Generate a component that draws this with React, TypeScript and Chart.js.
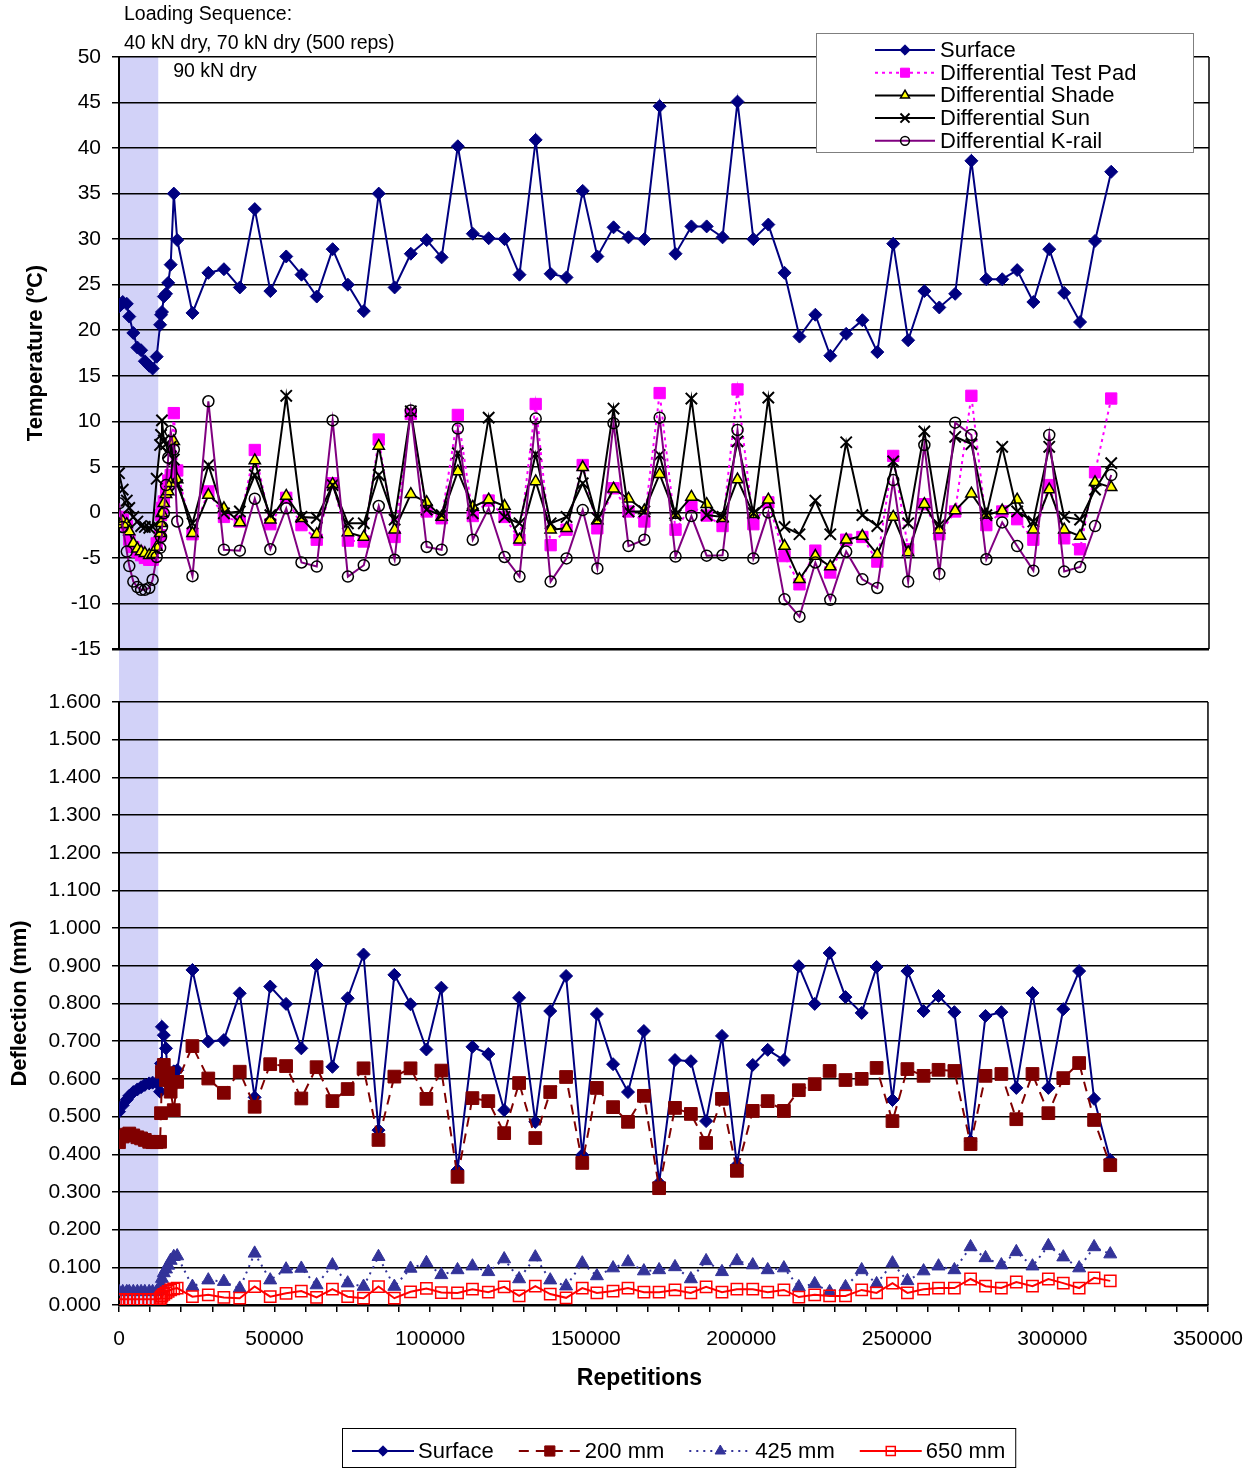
import React, { useEffect, useRef } from 'react';
import { Chart, registerables } from 'chart.js';
import { drawPoint } from 'chart.js/helpers';

Chart.register(...registerables);

const FONT = "'Liberation Sans', Arial, Helvetica, sans-serif";

// ---------------- DATA ----------------
const repetitions = [
  0, 1200, 2500, 3300, 4600, 5900, 7100, 8300, 9700, 10800, 12100, 13200, 13500, 13800, 14400, 15100, 15800, 16600, 17600, 18700,
  23600, 28700, 33700, 38800, 43600, 48600, 53700, 58600, 63500, 68600, 73500, 78600, 83400, 88500, 93700, 98800, 103600,
  108800, 113600, 118700, 123800, 128600, 133800, 138600, 143700, 148900, 153600, 158800, 163600, 168700, 173600, 178700,
  183800, 188700, 193800, 198600, 203700, 208500, 213700, 218500, 223600, 228400, 233500, 238700, 243500, 248600, 253400,
  258600, 263400, 268500, 273700, 278500, 283600, 288400, 293600, 298700, 303500, 308600, 313400, 318600,
];

const surfaceTemp = [
  22.6, 23.1, 22.9, 21.5, 19.7, 18.1, 17.8, 16.6, 16.1, 15.8, 17.1, 20.6, 21.7, 22.0, 23.7, 24.0, 25.2, 27.2, 35.0, 29.9,
  21.9, 26.3, 26.7, 24.7, 33.3, 24.3, 28.1, 26.1, 23.7, 28.9, 25.0, 22.1, 35.0, 24.7, 28.4, 29.9, 28.0,
  40.2, 30.6, 30.1, 30.0, 26.1, 40.9, 26.2, 25.8, 35.3, 28.1, 31.3, 30.2, 30.0, 44.6, 28.4, 31.4, 31.4, 30.2, 45.1, 30.0,
  31.6, 26.3, 19.3, 21.7, 17.2, 19.6, 21.1, 17.6, 29.5, 18.9, 24.3, 22.5, 24.0, 38.6, 25.6, 25.6, 26.6, 23.1, 28.9, 24.1,
  20.9, 29.8, 37.4,
];

const testPadDiff = [
  -0.5, -0.8, -1.5, -3.0, -3.8, -4.3, -4.7, -5.0, -5.2, -5.2, -3.4, -2.5, -0.3, 0.5, 1.2, 2.5, 3.5, 4.1, 10.9, 4.6,
  -2.4, 2.3, -0.5, -1.0, 6.85, -1.3, 1.6, -1.4, -3.0, 3.2, -3.1, -3.2, 8.0, -2.7, 10.8, 0.1, -0.65,
  10.7, -0.4, 1.3, -0.5, -3.0, 11.9, -3.6, -1.9, 5.2, -1.75, 2.65, 0.1, -1.0, 13.1, -1.9, 0.7, -0.35,
  -1.5, 13.5, -1.3, 1.1, -4.8, -7.9, -4.2, -6.6, -3.0, -2.7, -5.4, 6.2, -4.05, 0.9, -2.4, 0.1, 12.8,
  -1.4, 0.1, -0.75, -3.0, 3.0, -2.85, -4.05, 4.4, 12.5,
];

const shadeDiff = [
  -1.3, -1.0, -1.3, -2.1, -3.4, -4.0, -4.3, -4.5, -4.7, -4.6, -3.8, -2.3, -1.2, -0.1, 1.0, 2.0, 2.3, 3.2, 7.8, 3.6,
  -2.3, 1.9, 0.45, -1.1, 5.7, -0.8, 1.8, -0.65, -2.4, 3.1, -2.2, -2.7, 7.3, -1.9, 2.0, 1.1, -0.5,
  4.5, 0.6, 1.4, 0.7, -3.0, 3.4, -1.9, -1.75, 4.95, -0.9, 2.6, 1.5, 0.2, 4.2, -0.3, 1.7, 0.9,
  -0.65, 3.6, -0.2, 1.4, -3.7, -7.35, -4.8, -5.95, -3.0, -2.6, -4.6, -0.5, -4.4, 0.9, -1.9, 0.2, 2.05,
  -0.3, 0.2, 1.4, -1.9, 2.5, -1.9, -2.6, 3.3, 2.75,
];

const sunDiff = [
  4.3, 2.5, 1.3, 0.5, -0.5, -1.0, -1.5, -1.6, -1.7, -1.6, 3.7, 7.4, 8.5, 10.1, 7.9, 7.5, 6.5, 7.2, 5.8, 3.0,
  -1.2, 5.2, -0.1, 0.1, 4.1, -0.3, 12.8, -0.5, -0.6, 3.0, -1.2, -1.2, 4.1, -0.8, 11.1, 0.3, -0.3,
  6.5, -0.1, 10.4, -0.5, -1.2, 6.4, -1.2, -0.5, 3.2, -0.65, 11.4, 0.1, 0.1, 6.3, -0.3, 12.5, -0.3,
  -0.5, 7.8, -0.1, 12.6, -1.6, -2.4, 1.3, -2.4, 7.7, -0.3, -1.5, 5.6, -1.2, 8.9, -1.4, 8.3, 7.5,
  -0.3, 7.2, 0.1, -1.0, 7.2, -0.5, -0.8, 2.5, 5.4,
];

const kRailDiff = [
  1.0, -1.6, -4.3, -5.9, -7.6, -8.2, -8.5, -8.5, -8.3, -7.4, -4.9, -3.9, -2.7, -1.6, -0.1, 3.0, 6.0, 8.9, 6.9, -1.0,
  -7.0, 12.2, -4.1, -4.2, 1.5, -4.05, 0.45, -5.5, -5.95, 10.1, -7.05, -5.8, 0.7, -5.2, 11.2, -3.8, -4.1,
  9.2, -3.0, 0.45, -4.9, -7.05, 10.3, -7.6, -5.05, 0.25, -6.15, 9.8, -3.7, -3.0, 10.4, -4.85, -0.4, -4.75,
  -4.7, 9.05, -5.05, 0.0, -9.55, -11.45, -5.5, -9.6, -4.3, -7.35, -8.3, 3.55, -7.6, 7.4, -6.75, 9.85, 8.5,
  -5.15, -1.1, -3.7, -6.4, 8.5, -6.5, -6.0, -1.5, 4.1,
];

const surfaceDefl = [
  0.513, 0.530, 0.545, 0.555, 0.565, 0.572, 0.578, 0.584, 0.588, 0.590, 0.590, 0.566, 0.641, 0.738, 0.716, 0.681, 0.586, 0.600, 0.620, 0.623,
  0.889, 0.699, 0.703, 0.827, 0.551, 0.845, 0.799, 0.681, 0.902, 0.632,
  0.814, 0.930, 0.464, 0.876, 0.798, 0.678, 0.842, 0.358, 0.685, 0.666,
  0.517, 0.815, 0.486, 0.780, 0.873, 0.398, 0.772, 0.639, 0.565, 0.727,
  0.324, 0.650, 0.647, 0.488, 0.714, 0.371, 0.637, 0.677, 0.650, 0.899,
  0.799, 0.934, 0.817, 0.775, 0.897, 0.544, 0.886, 0.780, 0.820, 0.777,
  0.435, 0.767, 0.777, 0.576, 0.828, 0.576, 0.785, 0.886, 0.547, 0.385,
];

const defl200 = [
  0.432, 0.447, 0.452, 0.455, 0.450, 0.445, 0.442, 0.438, 0.433, 0.432, 0.432, 0.433, 0.509, 0.619, 0.637, 0.597, 0.615, 0.566, 0.517, 0.592,
  0.687, 0.601, 0.563, 0.619, 0.526, 0.639, 0.634, 0.548, 0.631, 0.541,
  0.573, 0.628, 0.438, 0.606, 0.628, 0.547, 0.622, 0.340, 0.549, 0.541,
  0.456, 0.589, 0.443, 0.565, 0.605, 0.377, 0.576, 0.525, 0.486, 0.555,
  0.310, 0.523, 0.507, 0.430, 0.547, 0.356, 0.515, 0.541, 0.515, 0.570,
  0.586, 0.621, 0.597, 0.600, 0.629, 0.488, 0.626, 0.608, 0.624, 0.621,
  0.427, 0.608, 0.613, 0.493, 0.613, 0.509, 0.602, 0.642, 0.491, 0.371,
];

const defl425 = [
  0.035, 0.035, 0.035, 0.035, 0.035, 0.035, 0.035, 0.035, 0.035, 0.035, 0.035, 0.040, 0.055, 0.070, 0.085, 0.095, 0.105, 0.118, 0.128, 0.130,
  0.049, 0.066, 0.062, 0.044, 0.137, 0.066, 0.095, 0.097, 0.053, 0.106,
  0.058, 0.049, 0.128, 0.049, 0.097, 0.112, 0.080, 0.093, 0.103, 0.088,
  0.122, 0.069, 0.127, 0.066, 0.050, 0.111, 0.077, 0.098, 0.114, 0.090,
  0.093, 0.101, 0.069, 0.117, 0.088, 0.117, 0.106, 0.093, 0.098, 0.048,
  0.056, 0.035, 0.048, 0.093, 0.056, 0.111, 0.064, 0.090, 0.103, 0.093,
  0.154, 0.125, 0.106, 0.141, 0.103, 0.157, 0.127, 0.098, 0.154, 0.135,
];

const defl650 = [
  0.015, 0.015, 0.015, 0.015, 0.015, 0.015, 0.015, 0.015, 0.015, 0.015, 0.015, 0.017, 0.020, 0.024, 0.028, 0.032, 0.036, 0.040, 0.043, 0.045,
  0.022, 0.027, 0.020, 0.018, 0.049, 0.022, 0.031, 0.037, 0.020, 0.042,
  0.022, 0.018, 0.049, 0.018, 0.035, 0.044, 0.033, 0.032, 0.042, 0.034,
  0.048, 0.024, 0.050, 0.029, 0.019, 0.045, 0.032, 0.037, 0.045, 0.034,
  0.034, 0.040, 0.032, 0.048, 0.034, 0.042, 0.042, 0.034, 0.040, 0.021,
  0.027, 0.024, 0.024, 0.040, 0.032, 0.058, 0.032, 0.042, 0.045, 0.045,
  0.069, 0.050, 0.045, 0.061, 0.050, 0.069, 0.058, 0.045, 0.072, 0.064,
];

const tempLabels = ['Surface', 'Differential Test Pad', 'Differential Shade', 'Differential Sun', 'Differential K-rail'];
const deflLabels = ['Surface', '200 mm', '425 mm', '650 mm'];
const loadingBand = [0, 12600];
const annotationLines = ['Loading Sequence:', '40 kN dry, 70 kN dry (500 reps)', '90 kN dry'];
const xAxisTitle = 'Repetitions';
const tempAxisTitle = 'Temperature (ºC)';
const deflAxisTitle = 'Deflection (mm)';
const repRange = [0, 350000];
const tempRange = [-15, 50];
const deflRange = [0, 1.6];

// ---------------- STYLES ----------------
const NAVY = '#000080';
const BAND = '#D2D2F8';

const tempStyles: any[] = [
  { borderColor: NAVY, borderWidth: 2, borderDash: [], pointStyle: 'rectRot', pointRadius: 6.5, pointBackgroundColor: NAVY, pointBorderColor: NAVY, pointBorderWidth: 1, order: 5 },
  { borderColor: '#FF00FF', borderWidth: 2, borderDash: [3, 4], pointStyle: 'rect', pointRadius: 8, pointBackgroundColor: '#FF00FF', pointBorderColor: '#FF00FF', pointBorderWidth: 1, order: 4 },
  { borderColor: '#000000', borderWidth: 2, borderDash: [], pointStyle: 'triangle', pointRadius: 6.5, pointBackgroundColor: '#FFFF00', pointBorderColor: '#000000', pointBorderWidth: 1.5, order: 3 },
  { borderColor: '#000000', borderWidth: 2, borderDash: [], pointStyle: 'crossRot', pointRadius: 8, pointBackgroundColor: '#000000', pointBorderColor: '#000000', pointBorderWidth: 2, order: 2 },
  { borderColor: '#800080', borderWidth: 2, borderDash: [], pointStyle: 'circle', pointRadius: 5.5, pointBackgroundColor: 'rgba(0,0,0,0)', pointBorderColor: '#000000', pointBorderWidth: 1.5, order: 1 },
];

const deflStyles: any[] = [
  { borderColor: NAVY, borderWidth: 2, borderDash: [], pointStyle: 'rectRot', pointRadius: 6.5, pointBackgroundColor: NAVY, pointBorderColor: NAVY, pointBorderWidth: 1, order: 4 },
  { borderColor: '#800000', borderWidth: 2, borderDash: [10, 7], pointStyle: 'rect', pointRadius: 9, pointBackgroundColor: '#800000', pointBorderColor: '#800000', pointBorderWidth: 1, order: 3 },
  { borderColor: '#333399', borderWidth: 2, borderDash: [2, 5], pointStyle: 'triangle', pointRadius: 7.5, pointBackgroundColor: '#333399', pointBorderColor: '#333399', pointBorderWidth: 1, order: 2 },
  { borderColor: '#FF0000', borderWidth: 2, borderDash: [], pointStyle: 'rect', pointRadius: 8, pointBackgroundColor: 'rgba(255,255,255,0)', pointBorderColor: '#FF0000', pointBorderWidth: 1.5, order: 1 },
];

function makeDatasets(labels: string[], series: number[][], styles: any[]) {
  return series.map((vals, i) => ({
    label: labels[i],
    data: repetitions.map((x, j) => ({ x, y: vals[j] })),
    ...styles[i],
    pointHoverRadius: styles[i].pointRadius,
    fill: false,
    tension: 0,
  }));
}

function drawSample(ctx: CanvasRenderingContext2D, st: any, x1: number, x2: number, y: number, scale: number) {
  ctx.save();
  ctx.strokeStyle = st.borderColor;
  ctx.lineWidth = st.borderWidth;
  ctx.setLineDash(st.borderDash || []);
  ctx.beginPath();
  ctx.moveTo(x1, y);
  ctx.lineTo(x2, y);
  ctx.stroke();
  ctx.setLineDash([]);
  ctx.fillStyle = st.pointBackgroundColor;
  ctx.strokeStyle = st.pointBorderColor;
  ctx.lineWidth = st.pointBorderWidth;
  drawPoint(ctx, { pointStyle: st.pointStyle, radius: st.pointRadius * scale, rotation: 0, borderWidth: st.pointBorderWidth } as any, (x1 + x2) / 2, y);
  ctx.restore();
}

function drawRightBorder(chart: any) {
  const { ctx, chartArea } = chart;
  ctx.save();
  ctx.strokeStyle = '#000';
  ctx.lineWidth = 1.5;
  ctx.beginPath();
  ctx.moveTo(chartArea.right, chartArea.top);
  ctx.lineTo(chartArea.right, chartArea.bottom);
  ctx.stroke();
  ctx.restore();
}

const topDecor = {
  id: 'topDecor',
  beforeDraw(chart: any) {
    const { ctx, chartArea, scales } = chart;
    const x0 = scales.x.getPixelForValue(loadingBand[0]);
    const x1 = scales.x.getPixelForValue(loadingBand[1]);
    ctx.save();
    ctx.fillStyle = BAND;
    ctx.fillRect(x0, chartArea.top, x1 - x0, chart.height - chartArea.top);
    ctx.restore();
  },
  afterDraw(chart: any) {
    const { ctx, chartArea, scales } = chart;
    drawRightBorder(chart);
    const x0 = scales.x.getPixelForValue(loadingBand[0]);
    const x1 = scales.x.getPixelForValue(loadingBand[1]);
    ctx.save();
    ctx.fillStyle = '#000';
    ctx.font = `19.5px ${FONT}`;
    ctx.textAlign = 'left';
    ctx.textBaseline = 'middle';
    ctx.fillText(annotationLines[0], x0 + 5, chartArea.top - 42);
    ctx.fillText(annotationLines[1], x0 + 5, chartArea.top - 13);
    ctx.fillText(annotationLines[2], x1 + 15, chartArea.top + 15);
    // legend
    const bw = 377, bh = 119;
    const bx = chartArea.right - 16 - bw;
    const by = chartArea.top - 24;
    ctx.fillStyle = '#fff';
    ctx.fillRect(bx, by, bw, bh);
    ctx.strokeStyle = '#7f7f7f';
    ctx.lineWidth = 1;
    ctx.strokeRect(bx + 0.5, by + 0.5, bw, bh);
    ctx.font = `22px ${FONT}`;
    tempLabels.forEach((lab, i) => {
      const y = by + 17 + i * 22.7;
      drawSample(ctx, tempStyles[i], bx + 59, bx + 119, y, 0.8);
      ctx.fillStyle = '#000';
      ctx.textAlign = 'left';
      ctx.textBaseline = 'middle';
      ctx.fillText(lab, bx + 124, y + 1);
    });
    ctx.restore();
  },
};

const bottomDecor = {
  id: 'bottomDecor',
  beforeDraw(chart: any) {
    const { ctx, chartArea, scales } = chart;
    const x0 = scales.x.getPixelForValue(loadingBand[0]);
    const x1 = scales.x.getPixelForValue(loadingBand[1]);
    ctx.save();
    ctx.fillStyle = BAND;
    ctx.fillRect(x0, 0, x1 - x0, chartArea.bottom);
    ctx.restore();
  },
  afterDraw(chart: any) {
    const { ctx, chartArea } = chart;
    drawRightBorder(chart);
    ctx.save();
    // x title
    ctx.fillStyle = '#000';
    ctx.font = `bold 23px ${FONT}`;
    ctx.textAlign = 'center';
    ctx.textBaseline = 'middle';
    ctx.fillText(xAxisTitle, (chartArea.left + chartArea.right) / 2 - 24, chartArea.bottom + 74);
    // legend
    ctx.font = `22px ${FONT}`;
    const widths = deflLabels.map((l) => ctx.measureText(l).width);
    const sample = 62, gapText = 4, gapEntry = 25, pad = 10;
    let total = pad * 2;
    widths.forEach((w, i) => { total += sample + gapText + w + (i < widths.length - 1 ? gapEntry : 0); });
    const bx = chartArea.left + 223;
    const by = chartArea.bottom + 123;
    const bh = 40;
    ctx.fillStyle = '#fff';
    ctx.fillRect(bx, by, total, bh);
    ctx.strokeStyle = '#000';
    ctx.lineWidth = 1;
    ctx.strokeRect(bx + 0.5, by + 0.5, total, bh - 1);
    let x = bx + pad;
    const y = by + 23;
    deflLabels.forEach((lab, i) => {
      drawSample(ctx, deflStyles[i], x, x + sample, y, 0.8);
      ctx.fillStyle = '#000';
      ctx.textAlign = 'left';
      ctx.textBaseline = 'middle';
      ctx.fillText(lab, x + sample + gapText, y + 1);
      x += sample + gapText + widths[i] + gapEntry;
    });
    ctx.restore();
  },
};

const gridWidth = (c: any) => (c.tick && (c.tick.value === tempRange[0]) ? 2.5 : 1.5);

export default function App() {
  const topRef = useRef<HTMLCanvasElement>(null);
  const botRef = useRef<HTMLCanvasElement>(null);

  useEffect(() => {
    Chart.defaults.font.family = FONT;
    Chart.defaults.color = '#000';

    const top = new Chart(topRef.current as HTMLCanvasElement, {
      type: 'line',
      data: { datasets: makeDatasets(tempLabels, [surfaceTemp, testPadDiff, shadeDiff, sunDiff, kRailDiff], tempStyles) as any },
      options: {
        animation: false,
        responsive: false,
        maintainAspectRatio: false,
        events: [],
        layout: { padding: { left: 0, right: 49, top: 57, bottom: 27 } },
        plugins: { legend: { display: false }, tooltip: { enabled: false } },
        scales: {
          x: { type: 'linear', min: repRange[0], max: repRange[1], display: false },
          y: {
            type: 'linear',
            min: tempRange[0],
            max: tempRange[1],
            afterFit: (s: any) => { s.width = 119; },
            ticks: { stepSize: 5, color: '#000', font: { size: 21, family: FONT }, padding: 11 },
            grid: { color: '#000', lineWidth: gridWidth as any, tickLength: 7, drawTicks: true },
            border: { display: true, color: '#000', width: 2 },
            title: { display: true, text: tempAxisTitle, color: '#000', font: { size: 22, weight: 'bold', family: FONT }, padding: { top: 23, bottom: 0 } },
          },
        },
      } as any,
      plugins: [topDecor],
    });

    const bot = new Chart(botRef.current as HTMLCanvasElement, {
      type: 'line',
      data: { datasets: makeDatasets(deflLabels, [surfaceDefl, defl200, defl425, defl650], deflStyles) as any },
      options: {
        animation: false,
        responsive: false,
        maintainAspectRatio: false,
        events: [],
        layout: { padding: { left: 0, right: 49, top: 26, bottom: 72 } },
        plugins: { legend: { display: false }, tooltip: { enabled: false } },
        scales: {
          x: {
            type: 'linear',
            min: repRange[0],
            max: repRange[1],
            afterFit: (s: any) => { s.height = 91; },
            ticks: {
              stepSize: 10000,
              autoSkip: false,
              maxRotation: 0,
              minRotation: 0,
              padding: 15,
              color: '#000',
              font: { size: 21, family: FONT },
              callback: (v: any) => (Number(v) % 50000 === 0 ? String(v) : ''),
            },
            grid: { drawOnChartArea: false, drawTicks: true, tickLength: 7, color: '#000', lineWidth: 1.5 },
            border: { display: true, color: '#000', width: 2.5 },
          },
          y: {
            type: 'linear',
            min: deflRange[0],
            max: deflRange[1],
            afterFit: (s: any) => { s.width = 119; },
            ticks: { stepSize: 0.1, color: '#000', font: { size: 21, family: FONT }, padding: 11, callback: (v: any) => Number(v).toFixed(3) },
            grid: { color: '#000', lineWidth: 1.5, tickLength: 7, drawTicks: true },
            border: { display: true, color: '#000', width: 2 },
            title: { display: true, text: deflAxisTitle, color: '#000', font: { size: 22, weight: 'bold', family: FONT }, padding: { top: 7, bottom: 0 } },
          },
        },
      } as any,
      plugins: [bottomDecor],
    });

    return () => {
      top.destroy();
      bot.destroy();
    };
  }, []);

  return (
    <div style={{ position: 'absolute', left: 0, top: 0, width: 1258, height: 1468, background: '#fff', overflow: 'hidden' }}>
      <canvas ref={topRef} width={1258} height={676} style={{ display: 'block', width: 1258, height: 676 }} />
      <canvas ref={botRef} width={1258} height={792} style={{ display: 'block', width: 1258, height: 792 }} />
    </div>
  );
}
